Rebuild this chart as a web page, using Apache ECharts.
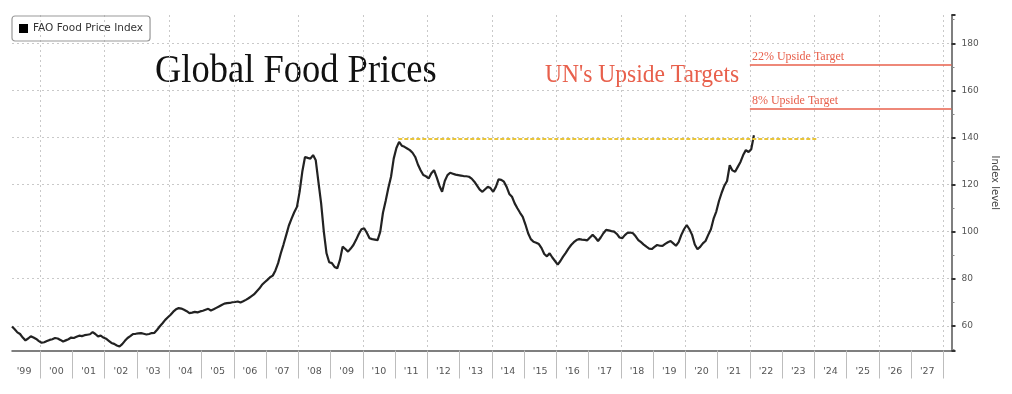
<!DOCTYPE html>
<html><head><meta charset="utf-8">
<script src="https://cdn.jsdelivr.net/npm/echarts@6/dist/echarts.min.js"></script>
<style>html,body{margin:0;padding:0;background:#fff}#c{width:1012px;height:394px}</style>
</head><body><div id="c"></div>
<script>
// ---- data ----
const seriesName = 'FAO Food Price Index';
const firstMonth = [1999, 2];           // first observation: Feb 1999 (monthly)
const fpiValues = [
  /*1999*/ 59.7, 58.5, 57.2, 56.5, 55.0, 53.8, 54.6, 55.5, 55.0, 54.4, 53.5,
  /*2000*/ 52.8, 53.0, 53.5, 54.0, 54.3, 54.8, 54.6, 54.0, 53.3, 53.8, 54.3, 55.0,
  /*2001*/ 54.8, 55.3, 55.8, 55.6, 56.0, 56.2, 56.4, 57.3, 56.5, 55.5, 55.8, 55.0,
  /*2002*/ 54.5, 53.6, 52.7, 52.3, 51.6, 51.2, 52.2, 53.6, 54.8, 55.6, 56.5, 56.6,
  /*2003*/ 56.8, 56.9, 56.6, 56.3, 56.5, 56.9, 57.0, 58.3, 59.8, 61.1, 62.5, 63.6,
  /*2004*/ 64.7, 66.0, 67.0, 67.5, 67.3, 66.8, 66.2, 65.4, 65.6, 65.9, 65.7, 66.1,
  /*2005*/ 66.4, 66.8, 67.2, 66.5, 67.0, 67.6, 68.2, 68.8, 69.4, 69.6, 69.7, 70.0,
  /*2006*/ 70.1, 70.3, 69.9, 70.4, 71.0, 71.7, 72.5, 73.3, 74.6, 75.8, 77.4, 78.5,
  /*2007*/ 79.5, 80.6, 81.3, 83.5, 86.6, 90.8, 94.5, 98.5, 102.6, 105.5, 108.2, 110.5,
  /*2008*/ 117.0, 125.5, 131.7, 131.3, 131.0, 132.5, 130.3, 121.0, 112.0, 100.0, 90.8, 87.0,
  /*2009*/ 86.6, 85.0, 84.4, 88.0, 93.6, 92.6, 91.5, 92.8, 94.3, 96.5, 99.0, 101.0,
  /*2010*/ 101.4, 99.5, 97.2, 96.8, 96.6, 96.4, 100.0, 108.0, 113.0, 118.5, 123.3, 131.0,
  /*2011*/ 135.5, 138.1, 136.5, 136.0, 135.3, 134.6, 133.5, 131.7, 128.5, 126.1, 124.0, 123.5,
  /*2012*/ 122.6, 124.8, 126.1, 123.0, 119.5, 116.9, 121.5, 124.0, 125.0, 124.6, 124.2, 124.0,
  /*2013*/ 123.8, 123.6, 123.5, 123.3, 122.5, 121.2, 119.5, 117.8, 116.9, 118.0, 119.0, 118.5,
  /*2014*/ 116.9, 119.0, 122.2, 122.0, 121.2, 119.0, 116.0, 114.8, 112.0, 109.9, 108.0, 106.3,
  /*2015*/ 103.0, 99.3, 96.8, 95.7, 95.3, 94.7, 93.0, 90.5, 89.5, 90.8, 89.0, 87.5,
  /*2016*/ 86.0, 87.5, 89.4, 91.0, 92.8, 94.3, 95.5, 96.4, 96.8, 96.6, 96.5, 96.3,
  /*2017*/ 97.5, 98.6, 97.5, 96.0, 97.5, 99.3, 100.7, 100.5, 100.2, 100.0, 99.0, 97.5,
  /*2018*/ 97.2, 98.5, 99.5, 99.6, 99.3, 98.0, 96.4, 95.5, 94.5, 93.6, 92.8, 92.6,
  /*2019*/ 93.5, 94.3, 94.0, 93.9, 94.8, 95.5, 96.0, 95.0, 94.0, 95.5, 98.6, 101.0,
  /*2020*/ 102.8, 101.0, 98.6, 94.5, 92.5, 93.5, 95.0, 96.0, 98.6, 101.0, 105.5, 108.5,
  /*2021*/ 113.0, 116.5, 119.5, 121.5, 128.2, 126.0, 125.4, 127.5, 129.6, 132.5, 134.6, 133.8,
  /*2022*/ 135.0, 140.9
];
const yearLabels = ["'99","'00","'01","'02","'03","'04","'05","'06","'07","'08","'09","'10","'11","'12","'13",
                    "'14","'15","'16","'17","'18","'19","'20","'21","'22","'23","'24","'25","'26","'27"];
const firstLabelYear = 1999;
const yTicks = [60, 80, 100, 120, 140, 160, 180];
const peakLevel = 139.5;
const peakSpan = [2011.1, 2024.1];
const targetNames = ['22% Upside Target', '8% Upside Target'];
const targetLevels = [171, 152];
const targetStart = 2022.0;
const xRange = [1999.125, 2028.25];
const yRange = [49.5, 192];

// ---- build ----
const lineData = fpiValues.map((v, i) => {
  const m0 = firstMonth[1] - 1 + i;
  const yr = firstMonth[0] + Math.floor(m0 / 12);
  const mo = m0 % 12;
  return [yr + (mo + 0.5) / 12, v];
});
const boundaryTicks = [];
for (let i = 0; i <= yearLabels.length; i++) boundaryTicks.push(firstLabelYear + 1 + i);
const labelPositions = yearLabels.map((_, i) => firstLabelYear + i + 0.5);

const RED = '#e8604c';
const GRID_LINE = { color: '#c9c9c9', width: 1, type: [2, 3] };
const SANS = 'DejaVu Sans';

const markLines = [
  [{ coord: [peakSpan[0], peakLevel], lineStyle: { color: '#e9c53a', width: 2, type: [4, 2] }, label: { show: false } },
   { coord: [peakSpan[1], peakLevel] }]
];
targetLevels.forEach((lv, i) => {
  markLines.push([
    { coord: [targetStart, lv], name: targetNames[i], lineStyle: { color: RED, width: 1.5, type: 'solid' },
      label: { show: true, formatter: '{b}', position: 'insideStartTop', distance: 2, color: RED,
               fontFamily: 'Liberation Serif', fontSize: 12 } },
    { coord: [xRange[1], lv] }
  ]);
});

const chart = echarts.init(document.getElementById('c'), null, { renderer: 'canvas' });
chart.setOption({
  animation: false,
  backgroundColor: '#fff',
  grid: { left: 12, right: 60.5, top: 15, bottom: 43.5, containLabel: false },
  legend: {
    data: [seriesName], left: 12, top: 16, icon: 'rect', itemWidth: 9, itemHeight: 9,
    padding: [7, 7], borderColor: '#999', borderWidth: 1.2, borderRadius: 3,
    textStyle: { fontSize: 10.5, color: '#333', fontFamily: SANS }
  },
  xAxis: [
    {
      type: 'value', min: xRange[0], max: xRange[1], position: 'bottom',
      axisLine: { show: true, onZero: false, lineStyle: { color: '#555', width: 1.5 } },
      axisTick: { show: true, customValues: boundaryTicks, length: 28, lineStyle: { color: '#bdbdbd', width: 1 } },
      axisLabel: {
        show: true, customValues: labelPositions, margin: 16, color: '#555', fontSize: 9.5, fontFamily: SANS,
        formatter: v => yearLabels[Math.floor(v) - firstLabelYear] || ''
      },
      splitLine: { show: false }
    },
    {
      type: 'value', min: xRange[0], max: xRange[1], position: 'bottom', minInterval: 2, maxInterval: 2,
      axisLine: { show: false }, axisTick: { show: false }, axisLabel: { show: false },
      splitLine: { show: true, showMinLine: false, showMaxLine: false, lineStyle: GRID_LINE }
    }
  ],
  yAxis: {
    type: 'value', position: 'right', min: yRange[0], max: yRange[1], minInterval: 20, maxInterval: 20,
    axisLine: { show: true, lineStyle: { color: '#555', width: 1.5 } },
    axisTick: { show: true, inside: false, length: 4, lineStyle: { color: '#333', width: 2 } },
    minorTick: { show: true, splitNumber: 2, length: 3, lineStyle: { color: '#888', width: 1 } },
    axisLabel: { margin: 10, color: '#555', fontSize: 9, fontFamily: SANS,
                 formatter: v => (yTicks.indexOf(Math.round(v * 1000) / 1000) >= 0 ? String(v) : '') },
    splitLine: { show: true, showMinLine: false, showMaxLine: false, lineStyle: GRID_LINE },
    name: 'Index level', nameLocation: 'middle', nameRotate: -90, nameGap: 38,
    nameTextStyle: { color: '#444', fontSize: 10, fontFamily: SANS }
  },
  series: [{
    name: seriesName, type: 'line', xAxisIndex: 0, data: lineData, showSymbol: false, symbol: 'none',
    lineStyle: { color: '#222', width: 2.2 }, itemStyle: { color: '#000' },
    markLine: { silent: true, symbol: ['none', 'none'], animation: false, data: markLines }
  }],
  graphic: [
    { type: 'text', x: 155, y: 71, scaleX: 0.89, silent: true,
      style: { text: 'Global Food Prices', fontFamily: 'Liberation Serif', fontSize: 41, fill: '#111', verticalAlign: 'middle' } },
    { type: 'text', x: 545, y: 76, scaleX: 0.96, silent: true,
      style: { text: "UN's Upside Targets", fontFamily: 'Liberation Serif', fontSize: 24.5, fill: RED, verticalAlign: 'middle' } }
  ]
});
</script>
</body></html>
